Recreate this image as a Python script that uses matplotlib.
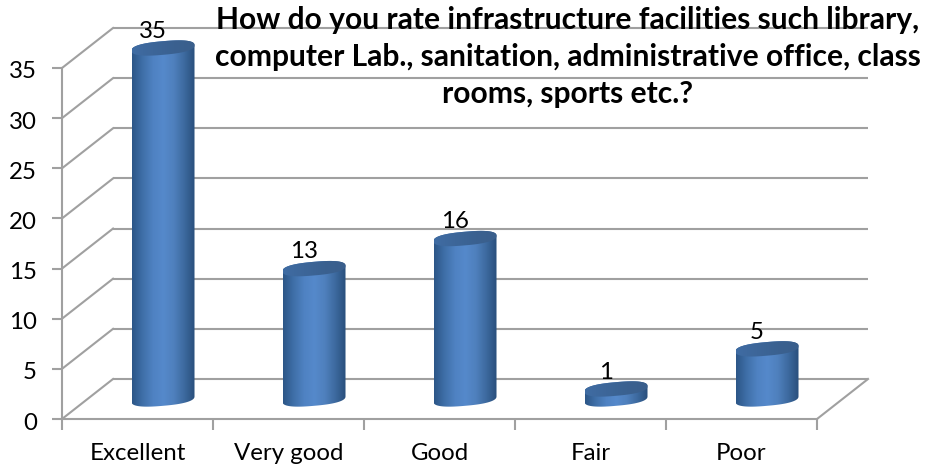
import numpy as np
import matplotlib
matplotlib.use("Agg")
import matplotlib.pyplot as plt
from matplotlib.colors import LinearSegmentedColormap
from matplotlib.patches import Polygon
from matplotlib.transforms import ScaledTranslation

plt.rcParams['font.family'] = ['Lato', 'DejaVu Sans']

categories = ["Excellent", "Very good", "Good", "Fair", "Poor"]
values = [35, 13, 16, 1, 5]
y_ticks = [0, 5, 10, 15, 20, 25, 30, 35]
title = ("How do you rate infrastructure facilities such library,\n"
         "computer Lab., sanitation, administrative office, class\n"
         "rooms, sports etc.?")

GRID = "#a0a0a0"
DEPTH_X = 0.338   # depth of the 3-D box in category units
DEPTH_Y = 3.99    # depth of the 3-D box in value units
CYL_W = 0.417
ELL_B = 0.68
SHEAR = 1.30
ROUND = 0.8       # exponent < 1 gives the fuller cap seen in the chart

fig = plt.figure(figsize=(9.25, 4.72), dpi=100)
ax = fig.add_axes([62 / 925, (472 - 419) / 472, 755 / 925, 351 / 472])
ax.set_xlim(-0.5, 4.5)
ax.set_ylim(0, 35)
ax.set_facecolor("none")

for s in ("top", "right"):
    ax.spines[s].set_visible(False)
for s in ("left", "bottom"):
    ax.spines[s].set_color(GRID)
    ax.spines[s].set_linewidth(1.5)

ax.set_yticks(y_ticks)
ax.set_xticks(np.arange(-0.5, 5, 1))
ax.set_xticks(range(5), minor=True)
ax.set_xticklabels([])
ax.set_xticklabels(categories, minor=True)
ax.tick_params(axis="y", length=7, width=1.5, color=GRID, labelsize=17.3, pad=11)
ax.tick_params(axis="x", which="major", length=8, width=1.5, color=GRID)
ax.tick_params(axis="x", which="minor", length=0, labelsize=17.3, pad=17)
for lbl in ax.get_yticklabels():
    lbl.set_transform(lbl.get_transform() + ScaledTranslation(0, -2 / 100, fig.dpi_scale_trans))

# back wall, side wall and floor
for v in y_ticks:
    ax.plot([-0.5 + DEPTH_X, 4.5 + DEPTH_X], [v + DEPTH_Y, v + DEPTH_Y],
            color=GRID, lw=1.5, clip_on=False, zorder=1, solid_capstyle="butt")
    ax.plot([-0.5, -0.5 + DEPTH_X], [v, v + DEPTH_Y],
            color=GRID, lw=1.5, clip_on=False, zorder=1)
ax.plot([4.5, 4.5 + DEPTH_X], [0, DEPTH_Y], color=GRID, lw=1.5, clip_on=False, zorder=1)

body_cmap = LinearSegmentedColormap.from_list(
    "body", ["#2c5687", "#3f6fa8", "#4f82c2", "#5589cb", "#4f80bd", "#3d6a9f", "#294f7c"])
top_cmap = LinearSegmentedColormap.from_list(
    "top", ["#3f6ca3", "#3d6699", "#3a6190", "#3a5f8c"])

t = np.linspace(0, 2 * np.pi, 361)


def ellipse(cx, cy):
    c = np.sign(np.cos(t)) * np.abs(np.cos(t)) ** ROUND
    s = np.sign(np.sin(t)) * np.abs(np.sin(t)) ** ROUND
    dx = CYL_W / 2 * c
    return cx + dx, cy + ELL_B * s + SHEAR * dx


for i, v in enumerate(values):
    cx = i + DEPTH_X / 2
    cy0 = DEPTH_Y / 2
    cy1 = cy0 + v
    xt, yt = ellipse(cx, cy1)
    xb, yb = ellipse(cx, cy0)
    lower = (t >= np.pi)
    # body: lower half of the bottom ellipse, then back across the top
    bx = np.r_[xb[lower], xt[~lower]]
    by = np.r_[yb[lower], yt[~lower]]
    body = Polygon(np.c_[bx, by], closed=True, fc="none", ec="none",
                   clip_on=False, zorder=3)
    ax.add_patch(body)
    im = ax.imshow(np.linspace(0, 1, 128)[None, :], cmap=body_cmap, aspect="auto",
                   extent=[cx - CYL_W / 2, cx + CYL_W / 2, cy0 - 2, cy1 + 2],
                   zorder=3, interpolation="bilinear")
    im.set_clip_box(fig.bbox)
    im.set_clip_path(body)
    cap = Polygon(np.c_[xt, yt], closed=True, fc="none", ec="none",
                  clip_on=False, zorder=4)
    ax.add_patch(cap)
    im2 = ax.imshow(np.linspace(0, 1, 64)[None, :], cmap=top_cmap, aspect="auto",
                    extent=[cx - CYL_W / 2, cx + CYL_W / 2, cy1 - 2, cy1 + 2],
                    zorder=4, interpolation="bilinear")
    im2.set_clip_box(fig.bbox)
    im2.set_clip_path(cap)
    ax.text(i + DEPTH_X * 0.3, v + DEPTH_Y * 0.92, str(v), ha="center", va="center",
            fontsize=17.3, color="black", zorder=5, clip_on=False)

ax.set_xlim(-0.5, 4.5)
ax.set_ylim(0, 35)

ax.text(2.85, 36.1, title, ha="center", va="center", fontsize=21.6, fontweight="bold",
        linespacing=1.39, color="black", zorder=6, clip_on=False)

fig.savefig("out.png", dpi=100)
